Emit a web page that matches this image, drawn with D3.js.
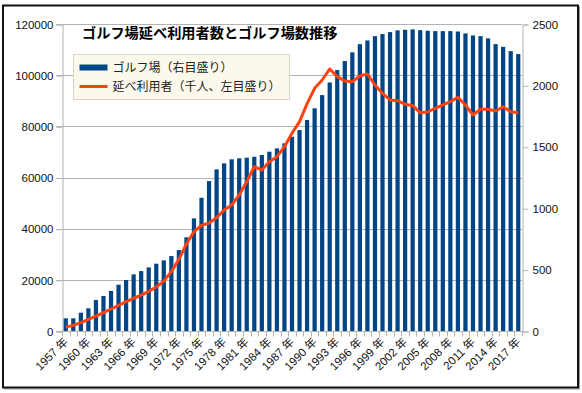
<!DOCTYPE html>
<html>
<head>
<meta charset="utf-8">
<script src="https://cdn.jsdelivr.net/npm/d3@7"></script>
<style>
body { margin: 0; background: #fff; }
text { font-family: "Liberation Sans", Arial, "Noto Sans CJK JP", sans-serif; }
</style>
</head>
<body>
<svg id="chart" width="582" height="393"></svg>
<script>
"use strict";

// categories
const years = [
    1957, 1958, 1959, 1960, 1961, 1962, 1963, 1964, 1965, 1966,
    1967, 1968, 1969, 1970, 1971, 1972, 1973, 1974, 1975, 1976,
    1977, 1978, 1979, 1980, 1981, 1982, 1983, 1984, 1985, 1986,
    1987, 1988, 1989, 1990, 1991, 1992, 1993, 1994, 1995, 1996,
    1997, 1998, 1999, 2000, 2001, 2002, 2003, 2004, 2005, 2006,
    2007, 2008, 2009, 2010, 2011, 2012, 2013, 2014, 2015, 2016,
    2017
];

// golf courses (right axis)
const courses = [
    103, 103, 149, 185, 252, 285, 326, 377, 415, 461,
    488, 518, 548, 575, 610, 659, 763, 917, 1085, 1221,
    1316, 1365, 1398, 1406, 1411, 1419, 1433, 1460, 1487, 1528,
    1582, 1636, 1718, 1813, 1921, 2024, 2125, 2198, 2269, 2336,
    2366, 2401, 2418, 2434, 2448, 2453, 2456, 2450, 2445, 2442,
    2442, 2442, 2439, 2423, 2407, 2401, 2383, 2336, 2314, 2279,
    2255
];

// users, thousands (left axis)
const users = [
    1500, 2200, 3300, 4500, 5800, 7200, 8600, 10000, 11500, 12800,
    14000, 15500, 17200, 19500, 23200, 28000, 34000, 38800, 41300, 42200,
    44300, 47300, 49250, 53160, 58360, 64230, 62930, 66180, 68130, 72050,
    77280, 81820, 88850, 94860, 98120, 102420, 99420, 97730, 97470, 99680,
    100460, 96160, 92910, 90300, 90030, 88620, 88080, 85340, 85610, 87060,
    88340, 89630, 91350, 88340, 84430, 86660, 86660, 86000, 87670, 85730,
    85340
];

// tick labels
const leftTicks = [0, 20000, 40000, 60000, 80000, 100000, 120000];
const rightTicks = [0, 500, 1000, 1500, 2000, 2500];
const labelYears = [1957, 1960, 1963, 1966, 1969, 1972, 1975, 1978, 1981, 1984, 1987,
                    1990, 1993, 1996, 1999, 2002, 2005, 2008, 2011, 2014, 2017];

const title = "ゴルフ場延べ利用者数とゴルフ場数推移";
const legendLabels = ["ゴルフ場（右目盛り）", "延べ利用者（千人、左目盛り）"];



// setting
const plot = { left: 62, right: 522, top: 24, bottom: 331 };
const barColor = "#004586",
      lineColor = "#ff420e",
      gridColor = "#b3b3b3";

let chart = d3.select("#chart");



// frame
chart.append("rect")
.attr("x", 4.5).attr("y", 7)
.attr("width", 575).attr("height", 382)
.attr("fill", "none")
.attr("stroke", "#999");
chart.append("rect")
.attr("x", 3).attr("y", 5.5)
.attr("width", 575).attr("height", 382)
.attr("fill", "#fff")
.attr("stroke", "#111")
.attr("stroke-width", 2);



// scales
let scaleX = d3.scaleBand()
.domain(years)
.range([plot.left, plot.right])
.paddingInner(0.44)
.paddingOuter(0.22);

let scaleBand = d3.scaleBand()
.domain(years)
.range([plot.left, plot.right]);

let scaleYLeft = d3.scaleLinear()
.domain([0, 120000])
.range([plot.bottom, plot.top]);

let scaleYRight = d3.scaleLinear()
.domain([0, 2500])
.range([plot.bottom, plot.top]);



// grid lines
chart.append("g")
.attr("class", "grid")
.selectAll("line")
.data(leftTicks)
.join("line")
.attr("x1", plot.left - 6)
.attr("x2", plot.right)
.attr("y1", d => Math.round(scaleYLeft(d)) + 0.5)
.attr("y2", d => Math.round(scaleYLeft(d)) + 0.5)
.attr("stroke", gridColor);



// y axis left
let yLeft = chart.append("g")
.attr("class", "y_axis_left")
.attr("transform", `translate(${plot.left + 0.5}, 0.5)`)
.call(d3.axisLeft(scaleYLeft).tickValues(leftTicks).tickSize(6).tickPadding(3).tickFormat(d3.format("d")));
yLeft.select(".domain").attr("stroke", gridColor);
yLeft.selectAll(".tick line").attr("stroke", gridColor);
yLeft.selectAll("text").attr("font-size", 11.5).attr("fill", "#111").attr("font-family", "Liberation Sans, Arial, sans-serif");



// y axis right
let yRight = chart.append("g")
.attr("class", "y_axis_right")
.attr("transform", `translate(${plot.right + 0.5}, 0.5)`)
.call(d3.axisRight(scaleYRight).tickValues(rightTicks).tickSize(6).tickPadding(4).tickFormat(d3.format("d")));
yRight.select(".domain").attr("stroke", gridColor);
yRight.selectAll(".tick line").attr("stroke", gridColor);
yRight.selectAll("text").attr("font-size", 11.5).attr("fill", "#111").attr("font-family", "Liberation Sans, Arial, sans-serif");



// bars
chart.append("g")
.attr("class", "bars")
.selectAll("rect")
.data(years)
.join("rect")
.attr("x", d => scaleX(d))
.attr("width", scaleX.bandwidth())
.attr("y", (d, i) => scaleYRight(courses[i]))
.attr("height", (d, i) => plot.bottom - scaleYRight(courses[i]))
.attr("fill", barColor);



// x axis
let xAxis = chart.append("g")
.attr("class", "x_axis")
.attr("transform", `translate(0, ${plot.bottom + 0.5})`);
xAxis.append("line")
.attr("x1", plot.left).attr("x2", plot.right + 0.5)
.attr("stroke", gridColor);
xAxis.selectAll("line.tick")
.data(years.concat([null]))
.join("line")
.attr("class", "tick")
.attr("x1", (d, i) => Math.round(plot.left + i * scaleBand.step()) + 0.5)
.attr("x2", (d, i) => Math.round(plot.left + i * scaleBand.step()) + 0.5)
.attr("y1", 0).attr("y2", 5)
.attr("stroke", gridColor);
xAxis.selectAll("text")
.data(labelYears)
.join("text")
.attr("transform", d => `translate(${scaleBand(d) + scaleBand.bandwidth() / 2 + 3}, 11) rotate(-45)`)
.attr("text-anchor", "end")
.attr("font-size", 11.5)
.attr("fill", "#111")
.text(d => `${d} 年`);



// line
let line = d3.line()
.x(d => scaleBand(d) + scaleBand.bandwidth() / 2)
.y((d, i) => scaleYLeft(users[i]));

chart.append("path")
.datum(years)
.attr("class", "line")
.attr("d", line)
.attr("fill", "none")
.attr("stroke", lineColor)
.attr("stroke-width", 3)
.attr("stroke-linejoin", "round");



// title
chart.append("text")
.attr("x", 82)
.attr("y", 38)
.attr("font-size", 14.2)
.attr("font-weight", "bold")
.attr("font-family", "Noto Sans CJK JP, sans-serif")
.attr("fill", "#000")
.text(title);



// legend
let legend = chart.append("g")
.attr("class", "legend")
.attr("transform", "translate(73.5, 54.5)");
legend.append("rect")
.attr("width", 216).attr("height", 45)
.attr("fill", "#fcf8ec")
.attr("stroke", "#d8d3c4");
legend.append("rect")
.attr("x", 6).attr("y", 10)
.attr("width", 28).attr("height", 6)
.attr("fill", barColor);
legend.append("line")
.attr("x1", 6).attr("x2", 34)
.attr("y1", 32).attr("y2", 32)
.attr("stroke", lineColor)
.attr("stroke-width", 3);
legend.selectAll("text")
.data(legendLabels)
.join("text")
.attr("x", 39)
.attr("y", (d, i) => 13 + i * 19)
.attr("dy", "0.36em")
.attr("font-size", 12)
.attr("font-family", "Noto Sans CJK JP, sans-serif")
.attr("fill", "#222")
.text(d => d);
</script>
</body>
</html>
